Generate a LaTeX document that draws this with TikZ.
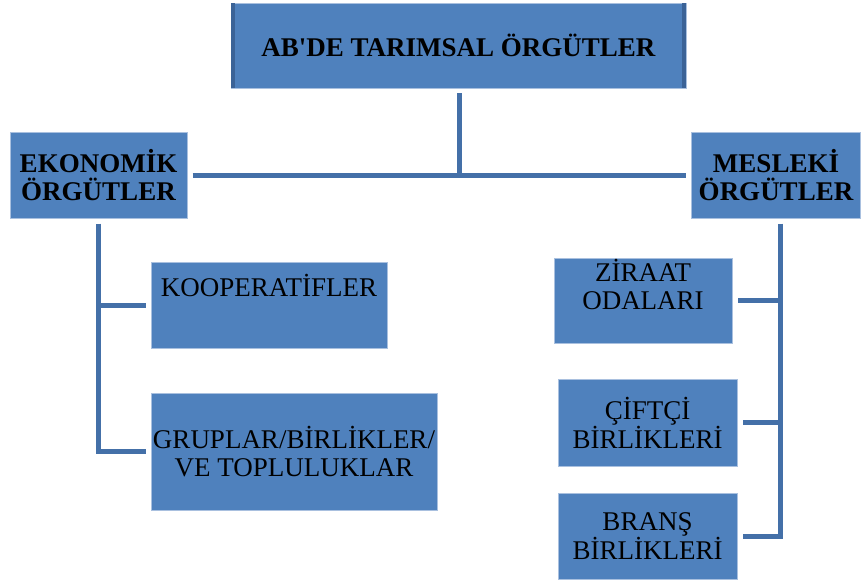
\documentclass[tikz,border=0pt]{standalone}
\usepackage{fontspec}
\setmainfont{Liberation Serif}[Ligatures=TeXOff]
\usepackage{tikz}

\definecolor{boxblue}{HTML}{4F81BD}
\definecolor{linkblue}{HTML}{4470A8}
\definecolor{edgeblue}{HTML}{A9C0DF}
\definecolor{sideblue}{HTML}{3B6397}

\tikzset{
  boxfont/.style={font=\fontsize{27}{28}\selectfont},
  orgbox/.style={rectangle, fill=boxblue, draw=edgeblue, line width=0.8pt, inner sep=0pt, outer sep=5.5pt, align=center, boxfont},
  headbox/.style={orgbox, font=\bfseries\fontsize{27}{28}\selectfont},
  toptext/.style={anchor=north, inner sep=0pt, outer sep=0pt, align=center, boxfont},
  link/.style={draw=linkblue, line width=5pt},
}

\begin{document}
\begin{tikzpicture}[x=1pt,y=1pt,yscale=-1]
\useasboundingbox (0,0) rectangle (861,583);

%Shape: title box
\node[headbox, minimum width=455pt, minimum height=85pt] (title) at (458.5,45.5) {AB'DE TARIMSAL ÖRGÜTLER};
\fill[sideblue] (231,3) rectangle (235,88);
\fill[sideblue] (682,3) rectangle (686,88);

%Shape: main groups
\node[headbox, minimum width=177pt, minimum height=86pt] (eco) at (98.5,175) {EKONOMİK\\ÖRGÜTLER};
\node[headbox, minimum width=169pt, minimum height=86pt] (mes) at (776,175) {MESLEKİ\\ÖRGÜTLER};

%Shape: left column
\node[orgbox, minimum width=236pt, minimum height=86pt,
  label={[toptext, name=kooptext, yshift=-18pt]north:KOOPERATİFLER}] (koop) at (269,305) {};
\node[orgbox, minimum width=286pt, minimum height=117pt] (grup) at (294,451.5) {GRUPLAR/BİRLİKLER/\\VE TOPLULUKLAR};

%Shape: right column
\node[orgbox, minimum width=178pt, minimum height=85pt,
  label={[toptext, name=ziraattext, yshift=-7pt]north:ZİRAAT\\ODALARI}] (ziraat) at (643,300.5) {};
\node[orgbox, minimum width=179pt, minimum height=87pt] (ciftci) at (647.5,422.5) {ÇİFTÇİ\\BİRLİKLERİ};
\node[orgbox, minimum width=179pt, minimum height=86pt] (brans) at (647.5,536) {BRANŞ\\BİRLİKLERİ};

%Straight Lines: top level
\coordinate (hub) at (title.south |- eco.east);
\draw[link] ([xshift=0.5pt]title.south) -- ([xshift=0.5pt]hub);
\draw[link] (eco.east) -- (mes.west);

%Straight Lines: left tree
\draw[link] (eco.south) |- (grup.west);
\draw[link] (eco.south |- koop.west) -- (koop.west);

%Straight Lines: right tree
\coordinate (trunk) at ([xshift=4pt]mes.south);
\draw[link] (trunk) |- (brans.east);
\draw[link] (trunk |- ziraat.east) -- (ziraat.east);
\draw[link] (trunk |- ciftci.east) -- (ciftci.east);

\end{tikzpicture}
\end{document}
